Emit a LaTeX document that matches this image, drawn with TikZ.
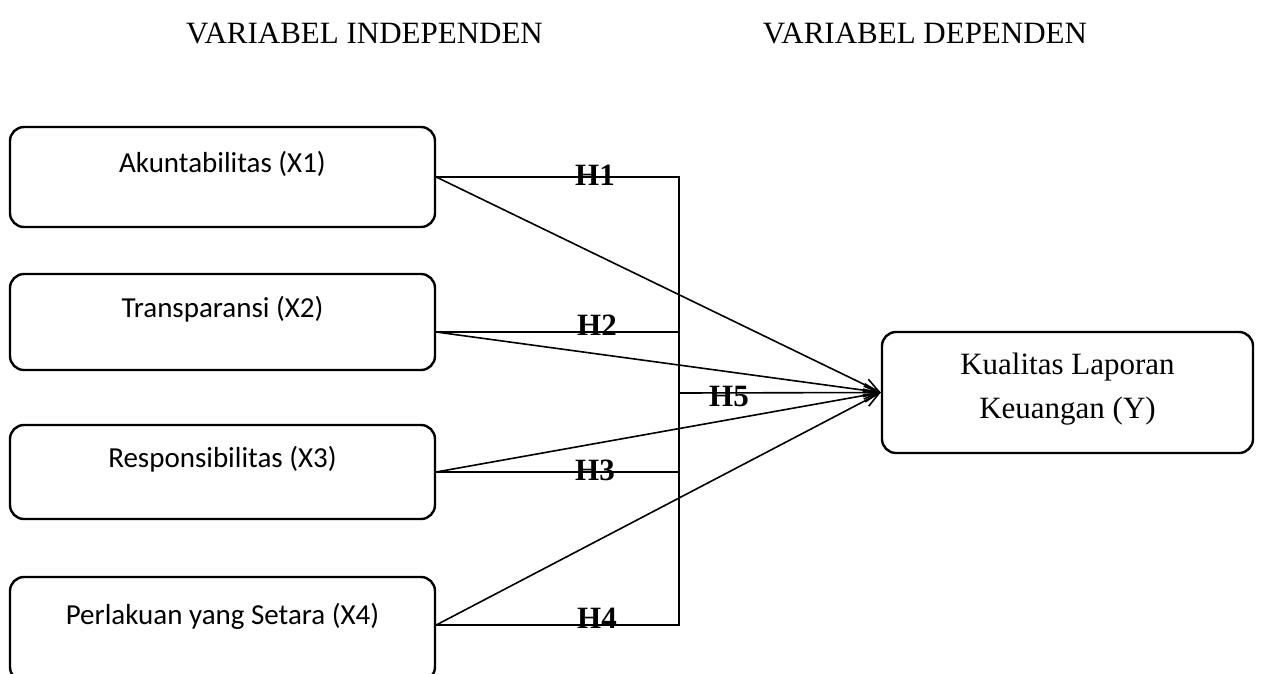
\documentclass[tikz,border=0pt]{standalone}
\usepackage{fontspec}
\setmainfont{Liberation Serif}
\newfontfamily\carlito{Carlito}
\usetikzlibrary{arrows.meta,calc}
\tikzset{
  varbox/.style={draw, line width=2.4pt, rounded corners=14pt, minimum width=425pt,
    inner sep=0pt, text height=20pt, text depth=30pt,
    font=\carlito\fontsize{29pt}{35pt}\selectfont},
  ybox/.style={draw, line width=2.4pt, rounded corners=14pt, minimum width=371pt,
    minimum height=121pt, align=center, inner sep=0pt,
    font=\fontsize{31pt}{44pt}\selectfont},
  head/.style={anchor=base, font=\fontsize{31pt}{36pt}\selectfont},
  hlab/.style={font=\bfseries\fontsize{31pt}{36pt}\selectfont, inner sep=0pt},
  conn/.style={line width=1.6pt},
  arr/.style={line width=1.6pt, -{Straight Barb[length=15pt,width=13pt,line width=1.6pt]}}
}
\begin{document}
\begin{tikzpicture}[x=1pt,y=-1pt]
\useasboundingbox (0,0) rectangle (1262,673);
\clip (0,0) rectangle (1262,673);
\fill[white] (0,0) rectangle (1262,673);

\node[head] (hi) at (364.5,43) {VARIABEL INDEPENDEN};
\node[head] (hd) at (925,43) {VARIABEL DEPENDEN};

\node[varbox, minimum height=100pt] (x1) at (222.5,177) {Akuntabilitas (X1)};
\node[varbox, minimum height=96pt] (x2) at (222.5,322) {Transparansi (X2)};
\node[varbox, minimum height=94pt] (x3) at (222.5,472) {Responsibilitas (X3)};
\node[varbox, minimum height=104pt] (x4) at (222.5,629) {Perlakuan yang Setara (X4)};

\node[ybox] (y) at (1067.5,392.5) {};
\node[font=\fontsize{31pt}{44pt}\selectfont, align=center] (yt) at (1067.5,389) {Kualitas Laporan\\Keuangan (Y)};

% start points on the boxes
\coordinate (s1) at (x1.east);
\coordinate (s2) at ($(x2.east)+(0,10)$);
\coordinate (s3) at (x3.east);
\coordinate (s4) at ($(x4.east)+(0,-4)$);

% points on the vertical line
\coordinate (v1) at (679,177);
\coordinate (v2) at (679,332);
\coordinate (v5) at (679,393);
\coordinate (v3) at (679,472);
\coordinate (v4) at (679,625);

\draw[conn] (s1) -- (v1) -- (v4) -- (s4);
\draw[conn] (s2) -- (v2);
\draw[conn] (s3) -- (v3);

\draw[arr] (s1) -- (y.west);
\draw[arr] (s2) -- (y.west);
\draw[arr] (s3) -- (y.west);
\draw[arr] (s4) -- (y.west);
\draw[arr] (v5) -- (y.west);

\node[hlab] (h1) at (595,175) {H1};
\node[hlab, anchor=base] (h2) at (597,335) {H2};
\node[hlab] (h3) at (595,470) {H3};
\node[hlab, anchor=base] (h4) at (597,628) {H4};
\node[hlab] (h5) at (729,396) {H5};
\end{tikzpicture}
\end{document}
